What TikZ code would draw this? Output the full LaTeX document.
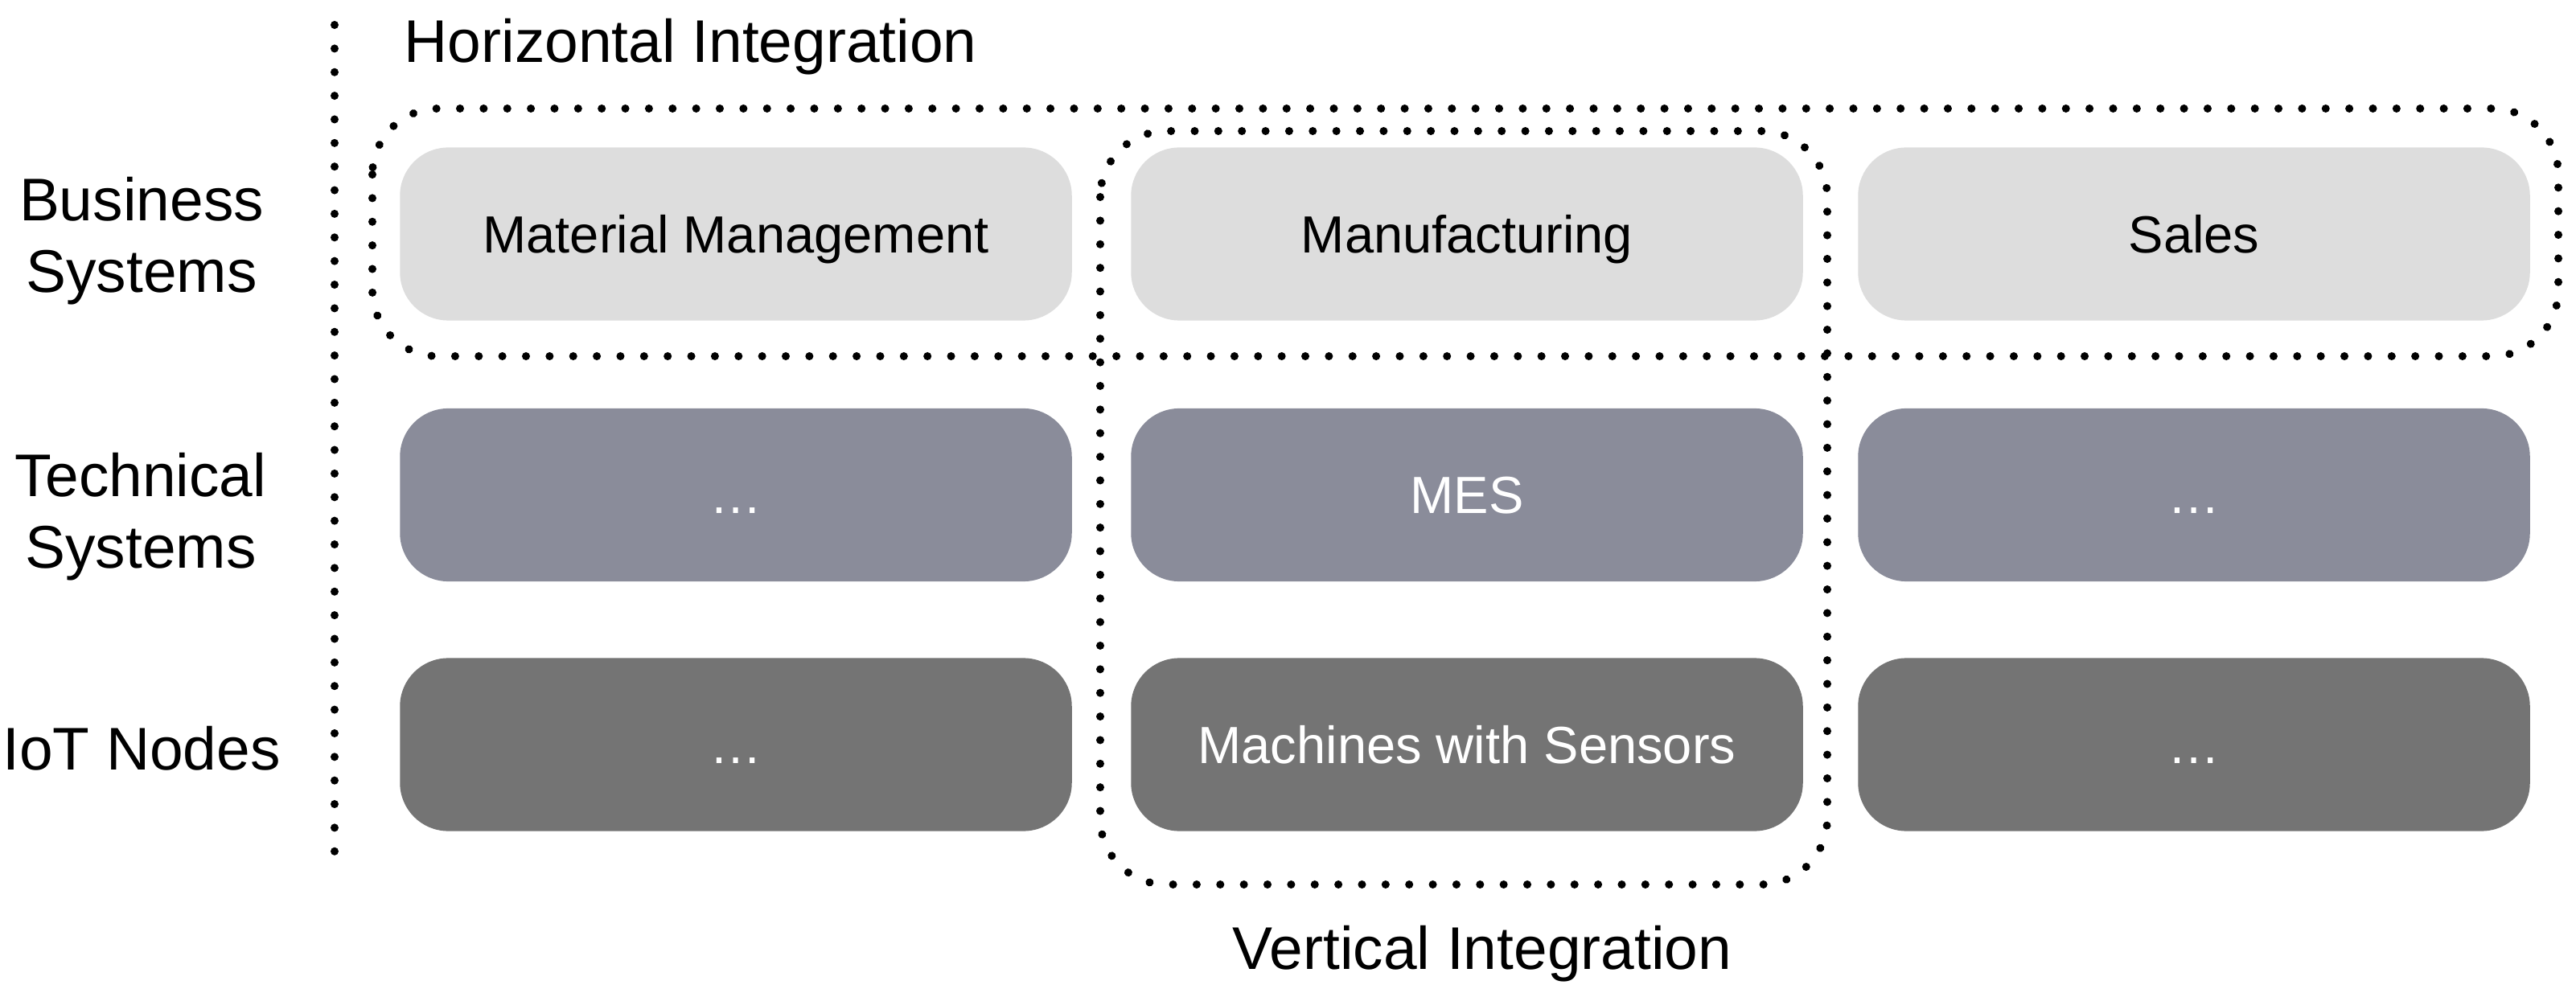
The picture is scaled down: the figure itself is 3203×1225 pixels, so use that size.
\documentclass[tikz,border=0pt]{standalone}
\usepackage{fontspec}
\setmainfont{Liberation Sans}
\definecolor{bizgray}{HTML}{DDDDDD}
\definecolor{techgray}{HTML}{8A8C9A}
\definecolor{iotgray}{HTML}{747474}
\begin{document}
\begin{tikzpicture}[x=0.01cm,y=-0.01cm,
  sysbox/.style={rounded corners=0.6cm, minimum width=8.35cm, minimum height=2.15cm,
    inner sep=0pt, font=\fontsize{18.5}{22}\selectfont, text height=13.25pt, text depth=0pt},
  biz/.style={sysbox, fill=bizgray, text=black},
  tech/.style={sysbox, fill=techgray, text=white},
  iot/.style={sysbox, fill=iotgray, text=white},
  layerlabel/.style={anchor=north, inner sep=0pt, align=center, font=\fontsize{21.3}{25.3}\selectfont},
  heading/.style={inner sep=0pt, font=\fontsize{21.3}{25.3}\selectfont},
  dotline/.style={line width=2.85pt, line cap=round, dash pattern=on 0.01pt off 8.34pt}]
\useasboundingbox (0,0) rectangle (3203,1225);

% boxes
\node[biz] (mm) at (915,291) {Material Management};
\node[biz] (mf) at (1824,291) {Manufacturing};
\node[biz] (sa) at (2728,291) {Sales};
\node[tech] (t1) at (915,615.5) {…};
\node[tech] (mes) at (1824,615.5) {MES};
\node[tech] (t3) at (2728,615.5) {…};
\node[iot] (i1) at (915,926) {…};
\node[iot] (ms) at (1824,926) {Machines with Sensors};
\node[iot] (i3) at (2728,926) {…};

% separator
\coordinate (septop) at (416,31);
\coordinate (sepbot) at (416,1072);
\draw[dotline] (septop) -- (sepbot);

% integration frames
\draw[dotline, rounded corners=0.82cm] (463,135) rectangle (3181,443);
\draw[dotline, rounded corners=0.82cm] (1368,163) rectangle (2272,1100);

% layer labels
\node[layerlabel] (lb) at (176,220) {Business\\Systems};
\node[layerlabel] (lt) at (175,563) {Technical\\Systems};
\node[layerlabel] (li) at (176,903) {IoT Nodes};

% headings
\node[heading, anchor=base west] (hi) at (502,78) {Horizontal Integration};
\node[heading, anchor=base] (vi) at (1843,1205) {Vertical Integration};
\end{tikzpicture}
\end{document}
